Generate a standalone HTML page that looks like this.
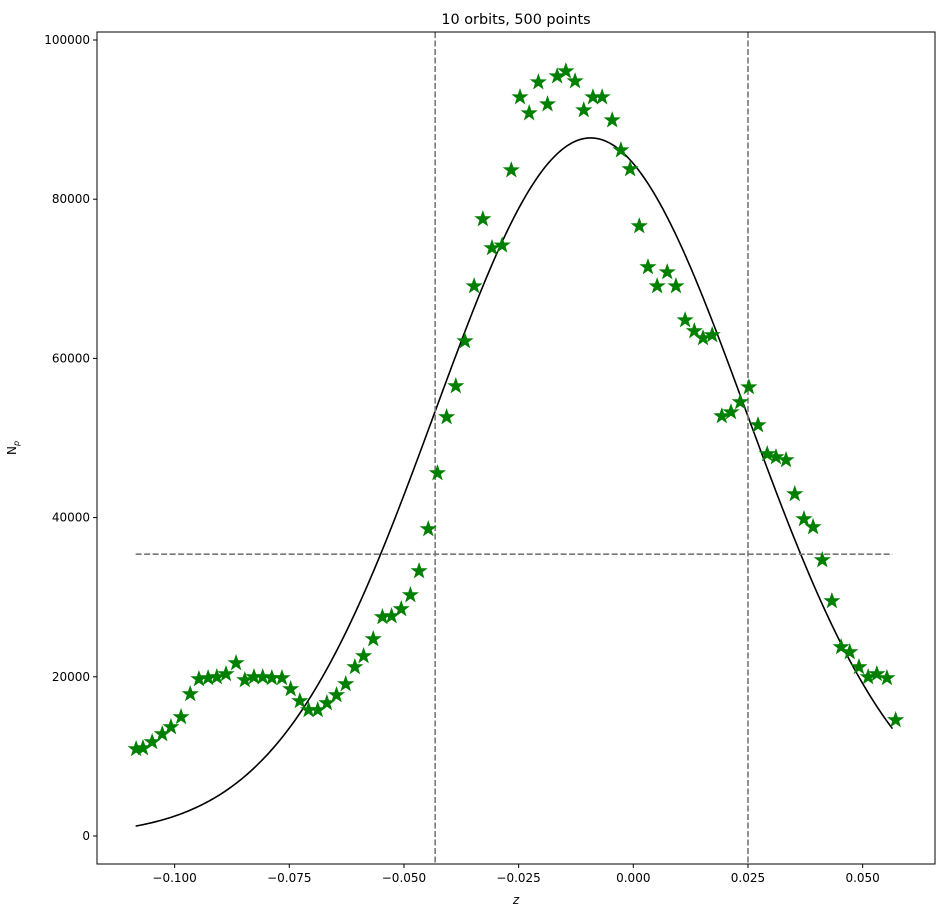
<!DOCTYPE html>
<html><head><meta charset="utf-8"><style>
body{margin:0;background:#fff;font-family:"Liberation Sans","DejaVu Sans",sans-serif}
svg text{font-family:"DejaVu Sans","Liberation Sans",sans-serif;font-size:12px;fill:#000}
</style></head><body>
<svg id="chart" width="947" height="917" xmlns="http://www.w3.org/2000/svg"></svg>
<script>
const zVals=[-0.1084,-0.1069,-0.1049,-0.1027,-0.1008,-0.0986,-0.0966,-0.0947,-0.0927,-0.0908,-0.0888,-0.0866,-0.0847,-0.0827,-0.0808,-0.0788,-0.0766,-0.0747,-0.0727,-0.0708,-0.0688,-0.0668,-0.0647,-0.0627,-0.0607,-0.0588,-0.0567,-0.0547,-0.0527,-0.0506,-0.0486,-0.0467,-0.0447,-0.0427,-0.0407,-0.0387,-0.0367,-0.0347,-0.0328,-0.0308,-0.0286,-0.0266,-0.0247,-0.0227,-0.0207,-0.0187,-0.0166,-0.0147,-0.0127,-0.0108,-0.0088,-0.0068,-0.0046,-0.0027,-0.0007,0.0013,0.0032,0.0052,0.0074,0.0093,0.0113,0.0133,0.0152,0.0172,0.0193,0.0213,0.0233,0.0252,0.0272,0.0292,0.0311,0.0333,0.0352,0.0372,0.0392,0.0412,0.0433,0.0453,0.0472,0.0492,0.0512,0.0531,0.0553,0.0572];
const nVals=[10930,11050,11810,12810,13690,14950,17840,19720,19850,19970,20350,21730,19590,19970,19970,19850,19850,18460,16960,15830,15830,16700,17710,19090,21230,22610,24740,27510,27630,28510,30270,33280,38560,45590,52630,56520,62170,69080,77500,73870,74200,83650,92820,90810,94700,91940,95450,96080,94830,91190,92820,92820,89930,86160,83780,76620,71470,69080,70840,69080,64810,63430,62550,62930,52750,53250,54510,56390,51620,47980,47600,47230,42960,39820,38810,34670,29520,23740,23110,21230,19970,20350,19850,14570];
const gaussParams=[87700,-0.0093,0.0340]; // amplitude, mean, sigma
const fitRange=[-0.1085,0.0565];
const vLines=[-0.0432,0.0250];
const hLine=[35400];
const xTicks=[-0.100,-0.075,-0.050,-0.025,0.000,0.025,0.050];
const xTickLabels=["−0.100","−0.075","−0.050","−0.025","0.000","0.025","0.050"];
const yTicks=[0,20000,40000,60000,80000,100000];
const yTickLabels=["0","20000","40000","60000","80000","100000"];

const svg=document.getElementById('chart');
const NS='http://www.w3.org/2000/svg';
const L=97,R=935,T=32,B=864;
const xs=z=>633.3+z*4586.7;
const ys=n=>836-n*0.00796;
function mk(tag,attrs,parent){const e=document.createElementNS(NS,tag);for(const k in attrs)e.setAttribute(k,attrs[k]);(parent||svg).appendChild(e);return e;}

let d='';
for(let i=0;i<=300;i++){const z=fitRange[0]+(fitRange[1]-fitRange[0])*i/300;const n=gaussParams[0]*Math.exp(-Math.pow(z-gaussParams[1],2)/(2*gaussParams[2]*gaussParams[2]));d+=(i?'L':'M')+xs(z).toFixed(2)+','+ys(n).toFixed(2);}
const curve=mk('path',{d:d,fill:'none',stroke:'#000','stroke-width':1.6});



vLines.forEach((v,i)=>{const l=mk('line',{x1:xs(v),x2:xs(v),y1:T,y2:B,stroke:'#777','stroke-width':1.6,'stroke-dasharray':'6,2.5'});

});
const hl=mk('line',{x1:xs(fitRange[0]),x2:xs(fitRange[1]),y1:ys(hLine[0]),y2:ys(hLine[0]),stroke:'#777','stroke-width':1.6,'stroke-dasharray':'6,2.5'});



function starPath(cx,cy,r){let p='';for(let i=0;i<10;i++){const a=-Math.PI/2+i*Math.PI/5;const rr=i%2?r*0.4:r;p+=(i?'L':'M')+(cx+rr*Math.cos(a)).toFixed(2)+','+(cy+rr*Math.sin(a)).toFixed(2);}return p+'Z';}
zVals.forEach((z,i)=>{const s=mk('path',{d:starPath(xs(z),ys(nVals[i]),7.5),fill:'#008000',stroke:'#008000','stroke-width':1});

});

const fr=mk('rect',{x:L,y:T,width:R-L,height:B-T,fill:'none',stroke:'#000','stroke-width':1});



xTicks.forEach((t,i)=>{const x=xs(t);mk('line',{x1:x,x2:x,y1:B,y2:B+4,stroke:'#000'});
const tx=mk('text',{x:x,y:B+18,'text-anchor':'middle'});tx.textContent=xTickLabels[i];

});
yTicks.forEach((t,i)=>{const y=ys(t);mk('line',{x1:L-4,x2:L,y1:y,y2:y,stroke:'#000'});
const tx=mk('text',{x:L-7,y:y+4,'text-anchor':'end'});tx.textContent=yTickLabels[i];

});

const title=mk('text',{x:(L+R)/2,y:24,'text-anchor':'middle',style:'font-size:14.4px'});title.textContent='10 orbits, 500 points';


const xl=mk('text',{x:(L+R)/2,y:904,'text-anchor':'middle','font-style':'italic'});xl.textContent='z';


const yl=mk('text',{x:0,y:0,'text-anchor':'middle',transform:'translate(16,448) rotate(-90)'});
yl.innerHTML='N<tspan font-size="8" font-style="italic" dy="3">p</tspan>';


</script>
</body></html>
